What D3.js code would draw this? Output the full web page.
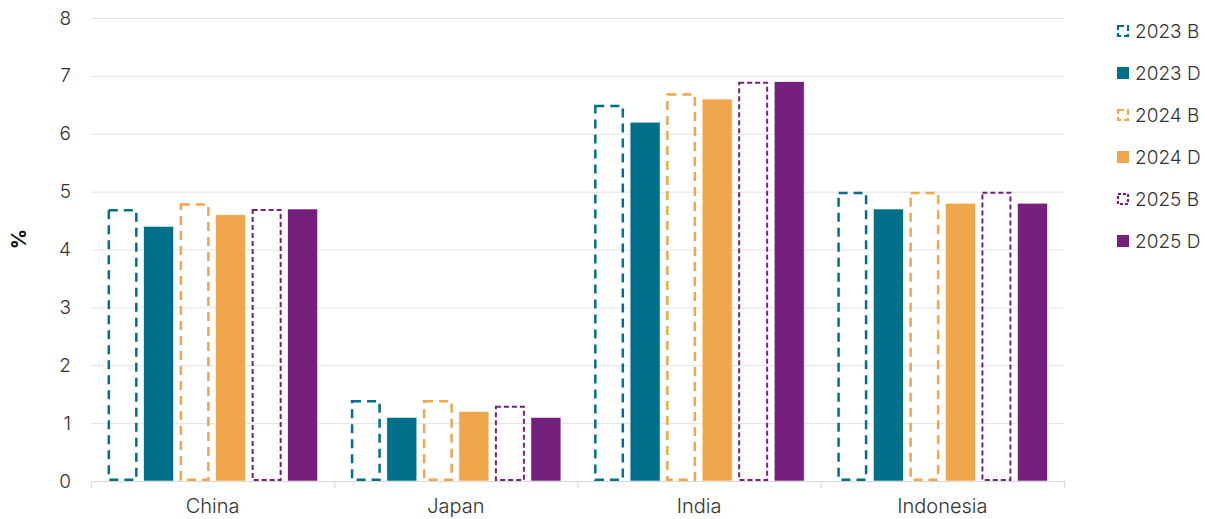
<!DOCTYPE html>
<html><head><meta charset="utf-8">
<script src="https://cdn.jsdelivr.net/npm/d3@7"></script>
<style>body{margin:0;background:#fff}svg{display:block}</style>
</head><body>
<svg id="c" width="1205" height="519"></svg>
<script>
const categories = ["China","Japan","India","Indonesia"];
const seriesNames = ["2023 B","2023 D","2024 B","2024 D","2025 B","2025 D"];
const s2023B = [4.7,1.4,6.5,5.0];
const s2023D = [4.4,1.1,6.2,4.7];
const s2024B = [4.8,1.4,6.7,5.0];
const s2024D = [4.6,1.2,6.6,4.8];
const s2025B = [4.7,1.3,6.9,5.0];
const s2025D = [4.7,1.1,6.9,4.8];
const yTicks = [0,1,2,3,4,5,6,7,8];
const yLabel = "%";

const seriesVals = [s2023B,s2023D,s2024B,s2024D,s2025B,s2025D];
const colors = ["#006F89","#006F89","#F0A64A","#F0A64A","#76207D","#76207D"];
const dashed = [true,false,true,false,true,false];
const dashArr = ["9,6",null,"9,6",null,"5,3",null];
const dashW = [2.5,0,2.5,0,2,0];

const svg = d3.select("#c");
const m = {l:91, r:1064, t:18, b:481};
const x0 = d3.scaleBand().domain(categories).range([m.l,m.r]).paddingInner(0).paddingOuter(0);
const x1 = d3.scaleBand().domain(seriesNames).range([0,x0.bandwidth()]).paddingInner(0.167).paddingOuter(0.46);
const y = d3.scaleLinear().domain([0,8]).range([m.b,m.t]);
const font = "Inter, Roboto, sans-serif";

// gridlines
svg.append("g").selectAll("line").data(yTicks.filter(d=>d>0)).join("line")
  .attr("x1",m.l).attr("x2",m.r).attr("y1",d=>y(d)+0.5).attr("y2",d=>y(d)+0.5)
  .attr("stroke","#e3e3e3").attr("stroke-width",1);

// y axis labels
const ya = svg.append("g").attr("transform",`translate(${m.l},0)`)
  .call(d3.axisLeft(y).tickValues(yTicks).tickSize(0).tickPadding(20).tickFormat(d3.format("d")));
ya.select(".domain").remove();
ya.selectAll("text").attr("font-family",font).attr("font-weight",300).attr("font-size",19).attr("fill","#333");

// bars
categories.forEach((c,ci)=>{
  const g = svg.append("g").attr("transform",`translate(${x0(c)},0)`);
  seriesNames.forEach((s,si)=>{
    const v = seriesVals[si][ci];
    const bx = x1(s), bw = x1.bandwidth();
    if(dashed[si]){
      const sw = dashW[si];
      g.append("rect").attr("x",bx+sw/2).attr("y",y(v)+sw/2)
        .attr("width",bw-sw).attr("height",y(0)-y(v)-sw)
        .attr("fill","none").attr("stroke",colors[si]).attr("stroke-width",sw)
        .attr("stroke-dasharray",dashArr[si]);
    } else {
      g.append("rect").attr("x",bx).attr("y",y(v)).attr("width",bw).attr("height",y(0)-y(v))
        .attr("fill",colors[si]).attr("stroke","#fff").attr("stroke-width",0.6);
    }
  });
});

// x axis
const xa = svg.append("g").attr("transform",`translate(0,${m.b})`)
  .call(d3.axisBottom(x0).tickSize(0).tickPadding(0));
xa.select(".domain").attr("stroke","#d9d9d9").attr("stroke-width",1.2);
xa.selectAll("text").attr("font-family",font).attr("font-weight",300).attr("font-size",20)
  .attr("fill","#333").attr("dy",null).attr("y",32);
const bounds = categories.map(c=>x0(c)).concat([m.r]);
svg.append("g").selectAll("line").data(bounds).join("line")
  .attr("x1",d=>d+0.5).attr("x2",d=>d+0.5).attr("y1",m.b).attr("y2",m.b+7)
  .attr("stroke","#d9d9d9").attr("stroke-width",1.2);

// y label
svg.append("text").attr("transform","translate(26,239) rotate(-90)")
  .attr("text-anchor","middle").attr("font-family",font).attr("font-weight",700)
  .attr("font-size",20).attr("fill","#111").text(yLabel);

// legend
const lg = svg.append("g");
seriesNames.forEach((s,i)=>{
  const cy = 31 + i*42;
  if(dashed[i]){
    lg.append("rect").attr("x",1118).attr("y",cy-5).attr("width",10).attr("height",10)
      .attr("fill","none").attr("stroke",colors[i]).attr("stroke-width",2.2)
      .attr("stroke-dasharray", i===4 ? "3,2" : "6,3");
  } else {
    lg.append("rect").attr("x",1117).attr("y",cy-6).attr("width",12).attr("height",12).attr("fill",colors[i]);
  }
  lg.append("text").attr("x",1135).attr("y",cy).attr("dy","0.36em")
    .attr("font-family",font).attr("font-weight",300).attr("font-size",19).attr("fill","#333").text(s);
});
</script>
</body></html>
